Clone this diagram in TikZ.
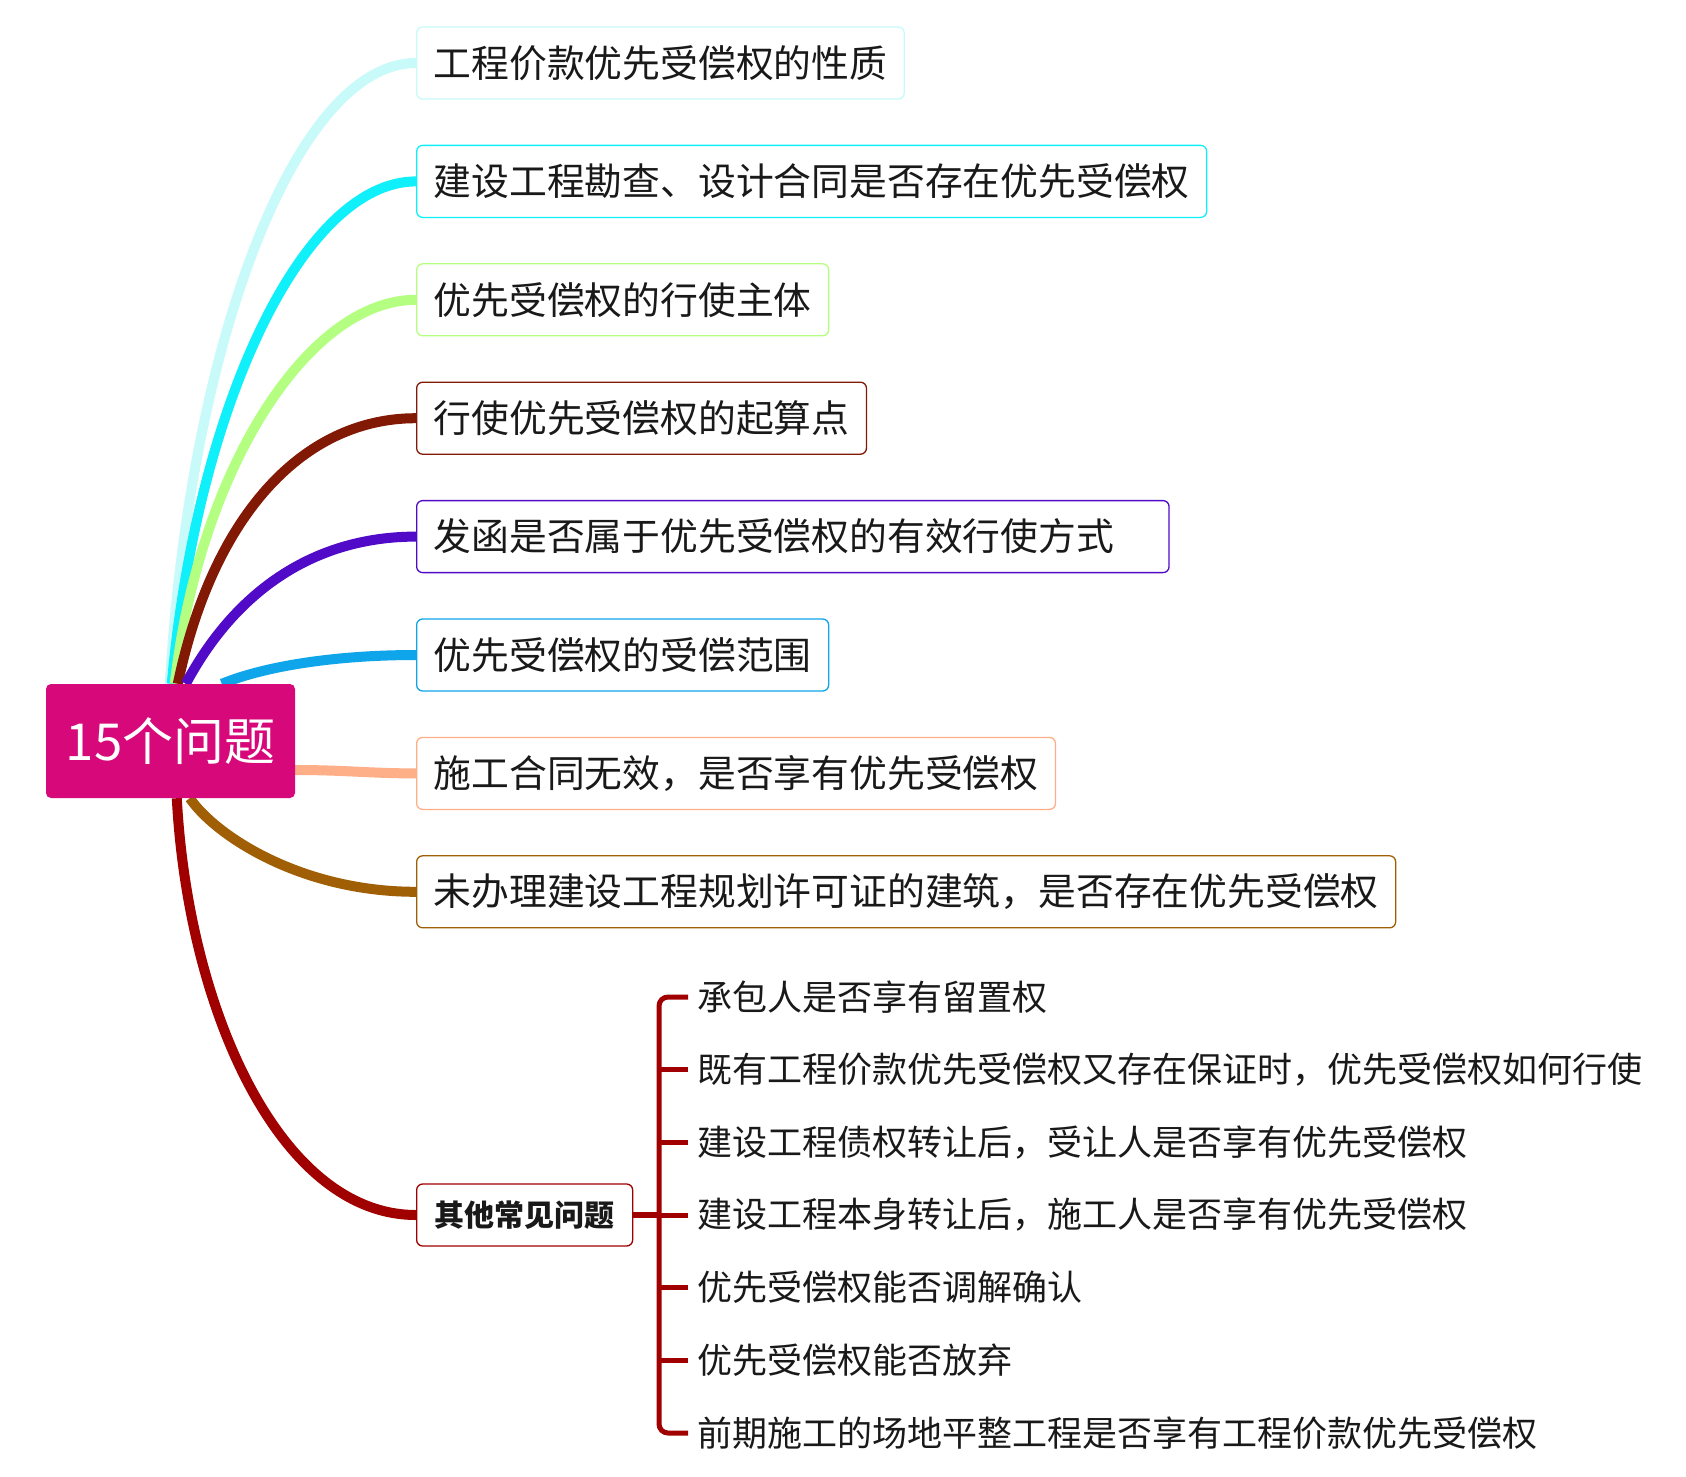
\documentclass[tikz,border=0pt]{standalone}
\usepackage{fontspec}
\setmainfont{Noto Sans CJK SC}
\usetikzlibrary{calc}
\definecolor{cRoot}{RGB}{214,8,122}
\definecolor{cA}{RGB}{200,250,250}
\definecolor{cB}{RGB}{15,240,250}
\definecolor{cC}{RGB}{180,255,130}
\definecolor{cD}{RGB}{130,25,5}
\definecolor{cE}{RGB}{80,10,200}
\definecolor{cF}{RGB}{15,165,235}
\definecolor{cG}{RGB}{255,175,135}
\definecolor{cH}{RGB}{160,95,5}
\definecolor{cI}{RGB}{160,0,0}
\definecolor{txt}{RGB}{25,25,25}
\pgfdeclarelayer{bg}
\pgfsetlayers{bg,main}
\begin{document}
\begin{tikzpicture}[x=1pt,y=-1pt,
  central/.style={fill=cRoot, rounded corners=5pt, minimum width=249pt, minimum height=114pt,
    inner sep=0pt, text=white, font=\fontsize{51}{55}\selectfont},
  topic/.style={draw=#1, line width=1.3pt, rounded corners=6pt, fill=white, anchor=west,
    inner xsep=17pt, inner ysep=0pt, minimum height=72pt, text=txt,
    font=\fontsize{37.8}{40}\selectfont},
  branch/.style={draw=#1, line width=10pt},
  subitem/.style={anchor=west, inner xsep=9pt, inner ysep=0pt, text=txt,
    font=\fontsize{35}{38}\selectfont},
  brk/.style={draw=cI, line width=5pt}]

\useasboundingbox (0,0) rectangle (1686,1477);

% root
\node[central] (root) at (170.5,741) {15个问题};

% topics
\node[topic=cA] (t1) at (416,63) {工程价款优先受偿权的性质};
\node[topic=cB] (t2) at (416,181.4) {建设工程勘查、设计合同是否存在优先受偿权};
\node[topic=cC] (t3) at (416,299.8) {优先受偿权的行使主体};
\node[topic=cD] (t4) at (416,418.2) {行使优先受偿权的起算点};
\node[topic=cE] (t5) at (416,536.6) {发函是否属于优先受偿权的有效行使方式\rule{38pt}{0pt}};
\node[topic=cF] (t6) at (416,655) {优先受偿权的受偿范围};
\node[topic=cG] (t7) at (416,773.4) {施工合同无效，是否享有优先受偿权};
\node[topic=cH] (t8) at (416,891.8) {未办理建设工程规划许可证的建筑，是否存在优先受偿权};
\node[topic=cI, inner xsep=18pt, minimum height=62pt, font=\fontsize{30}{33}\selectfont\bfseries] (t9) at (416,1215) {其他常见问题};

% branches
\begin{pgfonlayer}{bg}
\fill[white] (0,0) rectangle (1686,1477);
\draw[branch=cA] ([xshift=124pt]root.north west) .. controls (190,342) and (296,63) .. (t1.west);
\draw[branch=cB] ([xshift=126pt]root.north west) .. controls (196,410) and (302,181.4) .. (t2.west);
\draw[branch=cC] ([xshift=129pt]root.north west) .. controls (198,475) and (306,299.8) .. (t3.west);
\draw[branch=cD] ([xshift=132pt]root.north west) .. controls (212,520) and (300,418.2) .. (t4.west);
\draw[branch=cE] ([xshift=140pt]root.north west) .. controls (236,590) and (315,536.6) .. (t5.west);
\draw[branch=cF] ([xshift=176pt]root.north west) .. controls (268,665) and (340,655) .. (t6.west);
\draw[branch=cG] ([yshift=-29pt]root.east) .. controls (345,770) and (370,773.4) .. (t7.west);
\draw[branch=cH] ([xshift=144pt]root.south west) .. controls (215,835) and (300,891.8) .. (t8.west);
\draw[branch=cI] ([xshift=131pt]root.south west) .. controls (188,1010) and (280,1215) .. (t9.west);
\end{pgfonlayer}

% sub items
\node[subitem] (s1) at (688,997) {承包人是否享有留置权};
\node[subitem] (s2) at (688,1069.7) {既有工程价款优先受偿权又存在保证时，优先受偿权如何行使};
\node[subitem] (s3) at (688,1142.3) {建设工程债权转让后，受让人是否享有优先受偿权};
\node[subitem] (s4) at (688,1215) {建设工程本身转让后，施工人是否享有优先受偿权};
\node[subitem] (s5) at (688,1287.7) {优先受偿权能否调解确认};
\node[subitem] (s6) at (688,1360.3) {优先受偿权能否放弃};
\node[subitem] (s7) at (688,1433) {前期施工的场地平整工程是否享有工程价款优先受偿权};

\coordinate (bk) at (659,1433);
\draw[brk, rounded corners=9pt] (s1.west) -| (bk) -- (s7.west);
\draw[brk] (s2.west -| bk) -- (s2.west);
\draw[brk] (s3.west -| bk) -- (s3.west);
\draw[brk] (s4.west -| bk) -- (s4.west);
\draw[brk] (s5.west -| bk) -- (s5.west);
\draw[brk] (s6.west -| bk) -- (s6.west);
\draw[draw=cI, line width=6pt] (t9.east) -- (t9.east -| bk);
\end{tikzpicture}
\end{document}
